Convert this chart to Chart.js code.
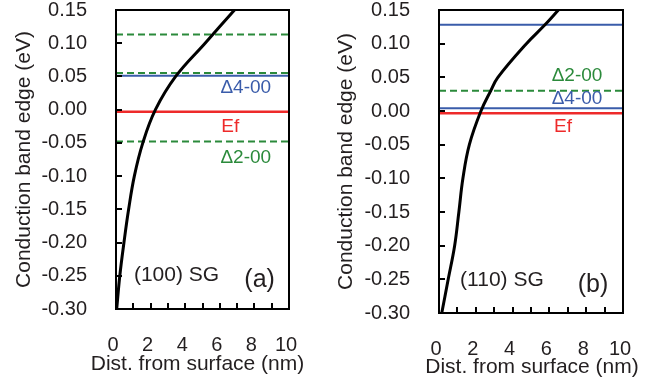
<!DOCTYPE html>
<html><head><meta charset="utf-8">
<script src="https://cdn.jsdelivr.net/npm/chart.js@4/dist/chart.umd.min.js"></script>
<style>
html,body{margin:0;padding:0;background:#fff;width:668px;height:383px;overflow:hidden}
canvas{position:absolute;top:0}
</style></head><body>
<canvas id="ca" width="330" height="383" style="left:0px"></canvas>
<canvas id="cb" width="338" height="383" style="left:330px"></canvas>
<script>
// ---- data ----
const xRange = [0, 10];
const yRange = [-0.30, 0.15];
const xTickLabels = ['0','2','4','6','8','10'];
const xTitle = 'Dist. from surface (nm)';
const yTitle = 'Conduction band edge (eV)';

// Panel (a) (100) SG
const curveA_x = [0.04, 0.22, 0.46, 0.73, 1.06, 1.55, 2.28, 3.45, 5.15, 6.85];
const curveA_y = [-0.30, -0.25, -0.20, -0.15, -0.10, -0.05, 0.00, 0.05, 0.10, 0.15];
const delta2A = [0.113, 0.055, -0.048];
const delta4A = [0.051];
const efA = [-0.003];

// Panel (b) (110) SG
const curveB_x = [0.15, 0.5, 0.85, 1.08, 1.3, 1.65, 2.28, 2.81, 3.2, 4.75, 5.76, 6.49];
const curveB_y = [-0.30, -0.25, -0.20, -0.15, -0.10, -0.05, 0.00, 0.03, 0.05, 0.10, 0.128, 0.15];
const delta2B = [0.030];
const delta4B = [0.128, 0.004];
const efB = [-0.0035];

// annotations (text, anchored in data coordinates)
const notesA_text = ['\u03944-00', 'Ef', '\u03942-00', '(100) SG', '(a)'];
const notesA_x = [7.5, 6.6, 7.5, 3.5, 8.3];
const notesA_y = [0.033, -0.025, -0.073, -0.249, -0.256];
const notesB_text = ['\u03942-00', '\u03944-00', 'Ef', '(110) SG', '(b)'];
const notesB_x = [7.5, 7.5, 6.74, 3.42, 8.37];
const notesB_y = [0.052, 0.018, -0.024, -0.251, -0.258];

// ---- styling ----
const FONT = "'Liberation Sans', Arial, sans-serif";
const BLUE = '#3a5caa', RED = '#ee2a2a', GREEN = '#2b8a3b', INK = '#231f20';
const noteColor = {'\u03944-00': BLUE, 'Ef': RED, '\u03942-00': GREEN};

function levelSet(vals, color, dash, width, order) {
  return vals.map(v => ({
    data: xRange.map(x => ({x: x, y: v})),
    borderColor: color, borderWidth: width, borderDash: dash,
    pointRadius: 0, fill: false, order: order, tension: 0
  }));
}

function makePlugin(texts, xs, ys, xTitleOffset, xTitleShift) {
  return {
    id: 'frameNotes',
    afterDatasetsDraw(chart) {
      const ctx = chart.ctx, a = chart.chartArea;
      const xs_ = chart.scales.x, ys_ = chart.scales.y;
      ctx.save();
      ctx.strokeStyle = '#000';
      ctx.lineWidth = 2;
      // inward tick marks
      ctx.beginPath();
      xs_.ticks.forEach(t => {
        const px = Math.round(xs_.getPixelForValue(t.value));
        ctx.moveTo(px, a.bottom); ctx.lineTo(px, a.bottom - 6);
      });
      ys_.ticks.forEach(t => {
        const py = Math.round(ys_.getPixelForValue(t.value));
        ctx.moveTo(a.left, py); ctx.lineTo(a.left + 6, py);
      });
      ctx.stroke();
      ctx.strokeRect(a.left, a.top, a.right - a.left, a.bottom - a.top);
      ctx.textAlign = 'center';
      ctx.textBaseline = 'middle';
      // x-axis title (wider than the plot, drawn unsqueezed)
      ctx.font = '21px ' + FONT;
      ctx.fillStyle = INK;
      ctx.fillText(xTitle, (a.left + a.right) / 2 + xTitleShift, a.bottom + xTitleOffset);
      // notes
      texts.forEach((t, i) => {
        const px = xs_.getPixelForValue(xs[i]);
        const py = ys_.getPixelForValue(ys[i]);
        let size = 19, col = noteColor[t] || INK;
        if (t.indexOf('SG') >= 0) size = 21;
        if (t.length === 3) size = 25;
        ctx.font = size + 'px ' + FONT;
        ctx.fillStyle = col;
        ctx.fillText(t, px, py);
      });
      ctx.restore();
    }
  };
}

function makeChart(id, cx, cy, d2, d4, ef, yW, xH, padR, titleLeftPad, xTitleOffset, xTitleShift, texts, nx, ny) {
  const curve = {
    data: cx.map((x, i) => ({x: x, y: cy[i]})),
    borderColor: '#000', borderWidth: 3, pointRadius: 0, fill: false,
    tension: 0.4, order: 0
  };
  const datasets = [curve]
    .concat(levelSet(ef, RED, [], 2.5, 1))
    .concat(levelSet(d4, BLUE, [], 2, 2))
    .concat(levelSet(d2, GREEN, [7, 4], 2, 3));
  return new Chart(document.getElementById(id), {
    type: 'line',
    data: {datasets: datasets},
    options: {
      responsive: false, animation: false, devicePixelRatio: 1,
      layout: {padding: {left: 0, top: 10, right: padR, bottom: 0}},
      plugins: {legend: {display: false}, tooltip: {enabled: false}},
      scales: {
        x: {
          type: 'linear', min: xRange[0], max: xRange[1],
          grid: {display: false, drawTicks: false},
          border: {display: false},
          ticks: {
            stepSize: 1, autoSkip: false, maxRotation: 0, padding: 24, labelOffset: -3,
            color: INK, font: {family: FONT, size: 20},
            callback: v => (xTickLabels.indexOf(String(v)) >= 0 ? String(v) : '')
          },
          title: {display: false},
          afterFit(s) { s.height = xH; s.paddingLeft = 0; s.paddingRight = 0; }
        },
        y: {
          type: 'linear', min: yRange[0], max: yRange[1],
          grid: {display: false, drawTicks: false},
          border: {display: false},
          ticks: {
            stepSize: 0.05, padding: 29, color: INK, font: {family: FONT, size: 20},
            callback: v => (Math.abs(v) < 1e-9 ? '0.00' : Number(v).toFixed(2))
          },
          title: {display: true, text: yTitle, color: INK,
                  font: {family: FONT, size: 21}, padding: {top: titleLeftPad, bottom: 0}},
          afterFit(s) { s.width = yW; s.paddingTop = 0; s.paddingBottom = 0; }
        }
      }
    },
    plugins: [makePlugin(texts, nx, ny, xTitleOffset, xTitleShift)]
  });
}

makeChart('ca', curveA_x, curveA_y, delta2A, delta4A, efA, 116, 74, 41, 12, 55, -5, notesA_text, notesA_x, notesA_y);
makeChart('cb', curveB_x, curveB_y, delta2B, delta4B, efB, 109, 70, 45, 4, 54, 1, notesB_text, notesB_x, notesB_y);
</script>
</body></html>
